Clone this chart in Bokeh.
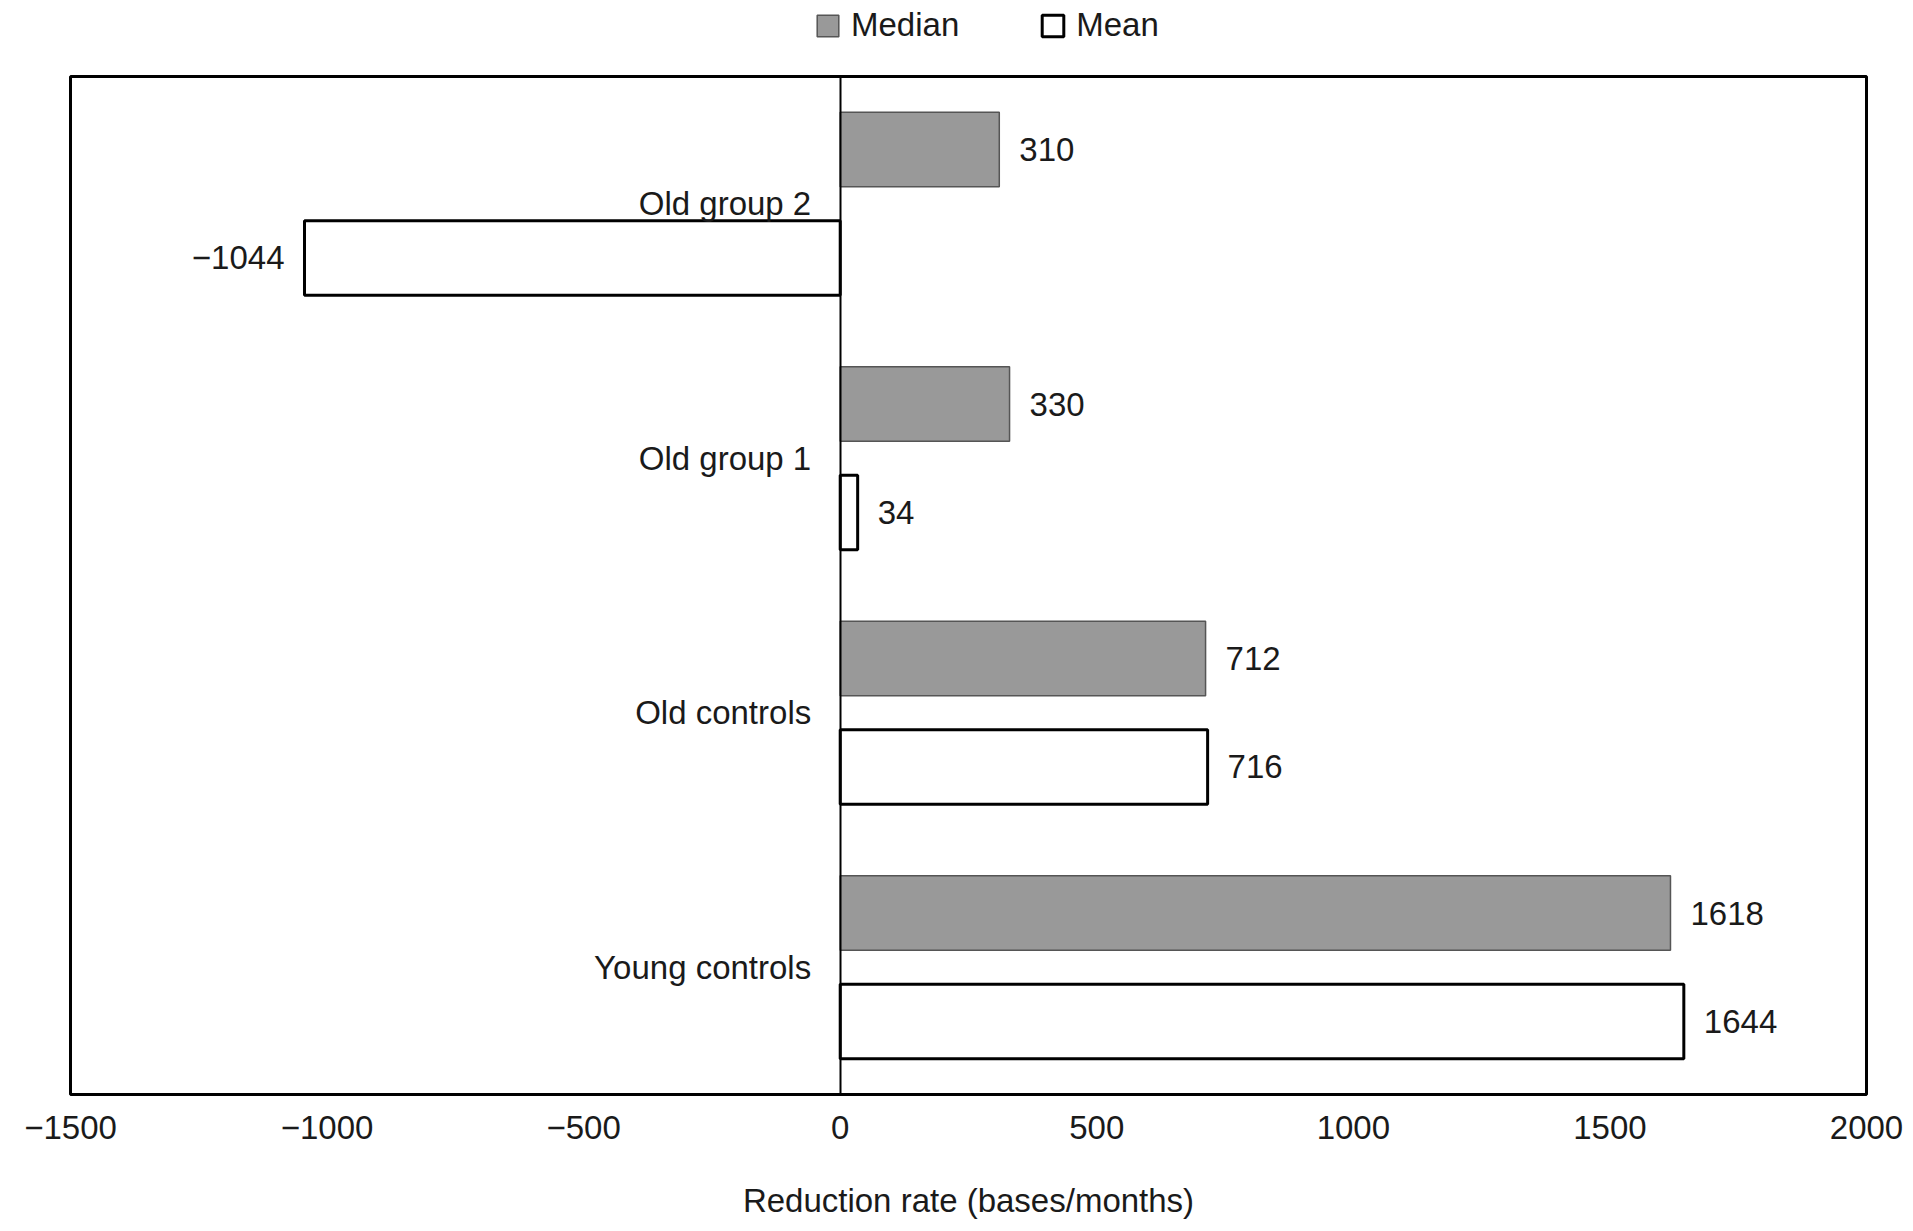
from bokeh.plotting import figure
from bokeh.layouts import column
from bokeh.models import ColumnDataSource, FactorRange, FixedTicker, Legend, LegendItem
from bokeh.transform import dodge
from bokeh.core.properties import value
from bokeh.embed import file_html
from bokeh.resources import INLINE

# ---- data ----
categories = ["Young controls", "Old controls", "Old group 1", "Old group 2"]  # bottom to top
median_vals = [1618, 712, 330, 310]
mean_vals = [1644, 716, 34, -1044]
x_ticks = [-1500, -1000, -500, 0, 500, 1000, 1500, 2000]
x_tick_labels = ["\u22121500", "\u22121000", "\u2212500", "0", "500", "1000", "1500", "2000"]
series_names = ["Median", "Mean"]

FONT = "Liberation Sans"
FS = "33px"
MED_STYLE = dict(fill_color="#999999", line_color="#555555", line_width=1.5)
MEAN_STYLE = dict(fill_color="white", line_color="black", line_width=3)

def fmt(v):
    return ("\u2212" + str(abs(v))) if v < 0 else str(v)

def make_source(vals):
    return ColumnDataSource(dict(
        cat=categories,
        val=vals,
        label=[fmt(v) for v in vals],
        align=["right" if v < 0 else "left" for v in vals],
        xoff=[-20 if v < 0 else 20 for v in vals],
    ))

src_med = make_source(median_vals)
src_mean = make_source(mean_vals)

W = 1905
LEG_H = 72

# ---- main chart ----
p = figure(width=W, height=1225 - LEG_H, y_range=FactorRange(*categories),
           x_range=(-1500, 2000), output_backend="svg", toolbar_location=None,
           min_border_left=70, min_border_right=39, min_border_top=4,
           min_border_bottom=131)

p.xgrid.visible = False
p.ygrid.visible = False
p.outline_line_color = "black"
p.outline_line_width = 3

OFF = 0.213
H = 0.293
p.hbar(y=dodge("cat", OFF, range=p.y_range), left=0, right="val", height=H,
       source=src_med, **MED_STYLE)
p.hbar(y=dodge("cat", -OFF, range=p.y_range), left=0, right="val", height=H,
       source=src_mean, **MEAN_STYLE)

for src, off in ((src_med, OFF), (src_mean, -OFF)):
    p.text(x="val", y=dodge("cat", off, range=p.y_range), text="label", source=src,
           x_offset="xoff", text_align="align", text_baseline="middle",
           text_font=value(FONT), text_font_size=FS, text_color="#1a1a1a")

# y axis at x = 0
yax = p.yaxis[0]
yax.fixed_location = 0
yax.axis_line_color = "black"
yax.axis_line_width = 2
yax.major_tick_in = 0
yax.major_tick_out = 0
yax.minor_tick_line_color = None
yax.major_label_standoff = 29
yax.major_label_text_font = FONT
yax.major_label_text_font_size = FS
yax.major_label_text_color = "#1a1a1a"

xax = p.xaxis[0]
xax.ticker = FixedTicker(ticks=x_ticks)
xax.major_label_overrides = {t: l for t, l in zip(x_ticks, x_tick_labels)}
xax.axis_line_color = None
xax.major_tick_in = 0
xax.major_tick_out = 0
xax.minor_tick_line_color = None
xax.major_label_standoff = 21
xax.major_label_text_font = FONT
xax.major_label_text_font_size = FS
xax.major_label_text_color = "#1a1a1a"
xax.axis_label = "Reduction rate (bases/months)"
xax.axis_label_text_font = FONT
xax.axis_label_text_font_size = FS
xax.axis_label_text_font_style = "normal"
xax.axis_label_text_color = "#1a1a1a"
xax.axis_label_standoff = 40

# ---- legend strip (legend-only renderers, hidden) ----
lf = figure(width=W, height=LEG_H, x_range=(0, 1), y_range=FactorRange(*categories),
            output_backend="svg", toolbar_location=None,
            x_axis_location=None, y_axis_location=None,
            min_border_left=0, min_border_right=0, min_border_top=0, min_border_bottom=0)
lf.xgrid.visible = False
lf.ygrid.visible = False
lf.outline_line_color = None
leg_med = lf.hbar(y="cat", left=0, right="val", height=H, source=src_med, visible=False, **MED_STYLE)
leg_mean = lf.hbar(y="cat", left=0, right="val", height=H, source=src_mean, visible=False, **MEAN_STYLE)

legend = Legend(items=[LegendItem(label=series_names[0], renderers=[leg_med]),
                       LegendItem(label=series_names[1], renderers=[leg_mean])],
                orientation="horizontal", location=(744, 28),
                glyph_width=27, glyph_height=27, label_standoff=10, spacing=80,
                padding=0, margin=0, border_line_color=None, background_fill_alpha=0,
                inactive_fill_alpha=0,
                label_text_font=FONT, label_text_font_size=FS, label_text_color="#1a1a1a")
lf.add_layout(legend, "center")

open("out.html", "w").write(file_html(column(lf, p, spacing=0), INLINE))
